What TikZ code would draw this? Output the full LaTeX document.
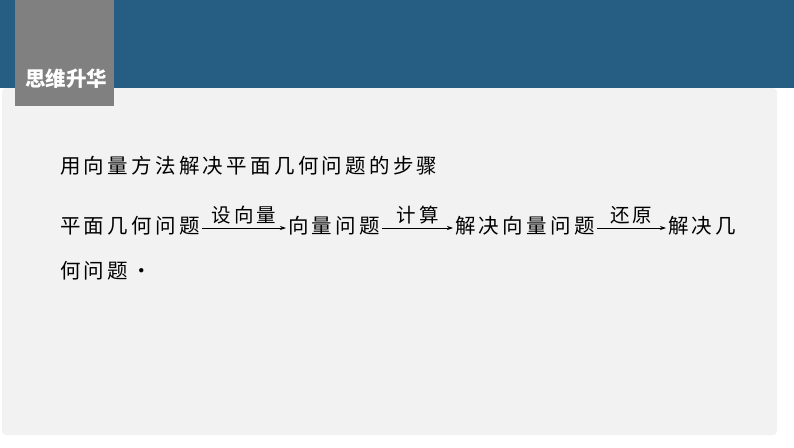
\documentclass[tikz,border=0pt]{standalone}
\usepackage{fontspec}
\usetikzlibrary{arrows.meta}
\newfontfamily\cjk[LetterSpace=16]{Noto Sans CJK SC}
\newfontfamily\cjkt{Noto Sans CJK SC}
\definecolor{band}{HTML}{255E82}
\definecolor{tabgray}{HTML}{808080}
\definecolor{panel}{HTML}{F2F2F2}
\begin{document}
\begin{tikzpicture}[x=1pt,y=-1pt,
  txt/.style={font=\cjk\fontsize{20.5}{24}\selectfont, inner sep=0pt, anchor=west},
  lbl/.style={font=\cjk\fontsize{19.5}{22}\selectfont, inner sep=0pt},
  arr/.style={-{Stealth[length=6pt,width=4pt]}, line width=0.7pt, shorten <=2pt, shorten >=2pt}]
\useasboundingbox (0,0) rectangle (794,447);
\fill[white] (0,0) rectangle (794,447);
\fill[band] (0,0) rectangle (794,88);
\fill[panel, rounded corners=4pt] (2,88) rectangle (777,435);
\fill[tabgray] (15,0) rectangle (114,106);
\node[font=\cjkt\bfseries\fontsize{20.5}{24}\selectfont, text=white, inner sep=0pt] (title) at (66,79) {思维升华};
\node[txt] (head) at (60,166) {用向量方法解决平面几何问题的步骤};
\node[txt] (s1) at (60,226) {平面几何问题};
\node[txt] (s2) at (288,226) {向量问题};
\node[txt] (s3) at (455,226) {解决向量问题};
\node[txt] (s4) at (668,226) {解决几};
\node[txt] (s5) at (60,271) {何问题·};
\draw[arr] ([yshift=-2pt]s1.east) -- ([yshift=-2pt]s2.west) node[midway, above=4pt, lbl] (l1) {设向量};
\draw[arr] ([yshift=-2pt]s2.east) -- ([yshift=-2pt]s3.west) node[midway, above=4pt, lbl] (l2) {计算};
\draw[arr] ([yshift=-2pt]s3.east) -- ([yshift=-2pt]s4.west) node[midway, above=4pt, lbl] (l3) {还原};
\end{tikzpicture}
\end{document}
